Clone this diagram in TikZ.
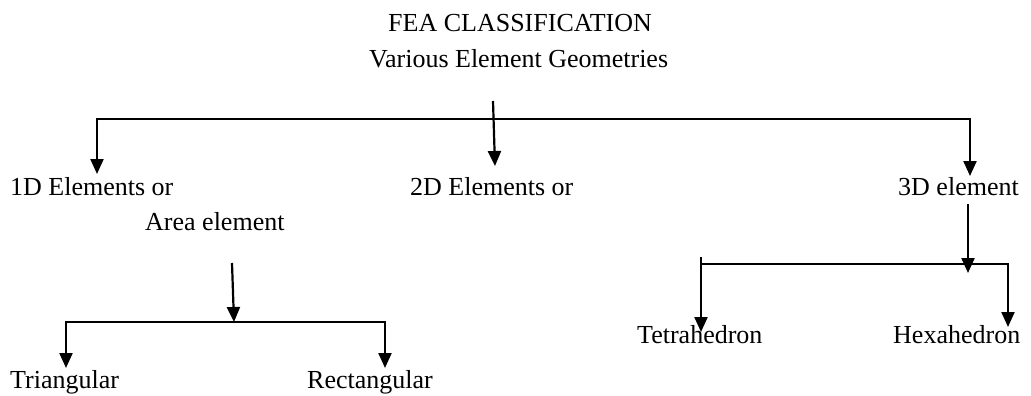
\documentclass[tikz,border=0pt]{standalone}
\usepackage{fontspec}
\setmainfont{Liberation Serif}
\usetikzlibrary{arrows.meta}

\begin{document}
\begin{tikzpicture}[x=1pt, y=-1pt,
    every node/.style={font=\fontsize{26}{30}\selectfont, inner sep=0pt, anchor=base west},
    link/.style={line width=2.2pt},
    arr/.style={link, -{Triangle[width=13pt,length=15pt]}},
    twoarr/.style={link, {Triangle[width=13pt,length=15pt]}-{Triangle[width=13pt,length=15pt]}}]
  \useasboundingbox (0,0) rectangle (1031,396);
  % titles
  \node (fea) at (388,32) {FEA CLASSIFICATION};
  \node (geo) at (369,68) {Various Element Geometries};
  % first level
  \node (one)   at (10,195)  {1D Elements or};
  \node (two)   at (410,195) {2D Elements or};
  \node (three) at (898,195) {3D element};
  \node (area)  at (145,230) {Area element};
  % second level
  \node (tri)   at (10,388)  {Triangular};
  \node (rect)  at (307,388) {Rectangular};
  \node (tet)   at (637,343) {Tetrahedron};
  \node (hex)   at (893,343) {Hexahedron};

  % main bar
  \coordinate (oneTip)   at (97,174);
  \coordinate (threeTip) at (970,176);
  \coordinate (barR)     at (970,119);
  \draw[twoarr] (oneTip) |- (barR) -- (threeTip);
  \coordinate (geoFoot) at (493,101);
  \coordinate (twoTip)  at (495,166);
  \draw[arr] (geoFoot) -- (twoTip);

  % area element branch
  \coordinate (areaFoot) at (232,263);
  \coordinate (areaTip)  at (234,322);
  \draw[arr] (areaFoot) -- (areaTip);
  \coordinate (triTip)  at (66,368);
  \coordinate (rectTip) at (385,368);
  \coordinate (barB)    at (385,322);
  \draw[twoarr] (triTip) |- (barB) -- (rectTip);

  % 3D element branch
  \coordinate (threeFoot) at (968,204);
  \coordinate (threeDown) at (968,273);
  \draw[arr] (threeFoot) -- (threeDown);
  \coordinate (tetTop) at (701,257);
  \coordinate (tetTip) at (701,332);
  \coordinate (hexTip) at (1008,327);
  \coordinate (barC)   at (1008,264);
  \draw[arr] (tetTop) -- (tetTip);
  \draw[arr] (tetTop |- barC) -- (barC) -- (hexTip);
\end{tikzpicture}
\end{document}
